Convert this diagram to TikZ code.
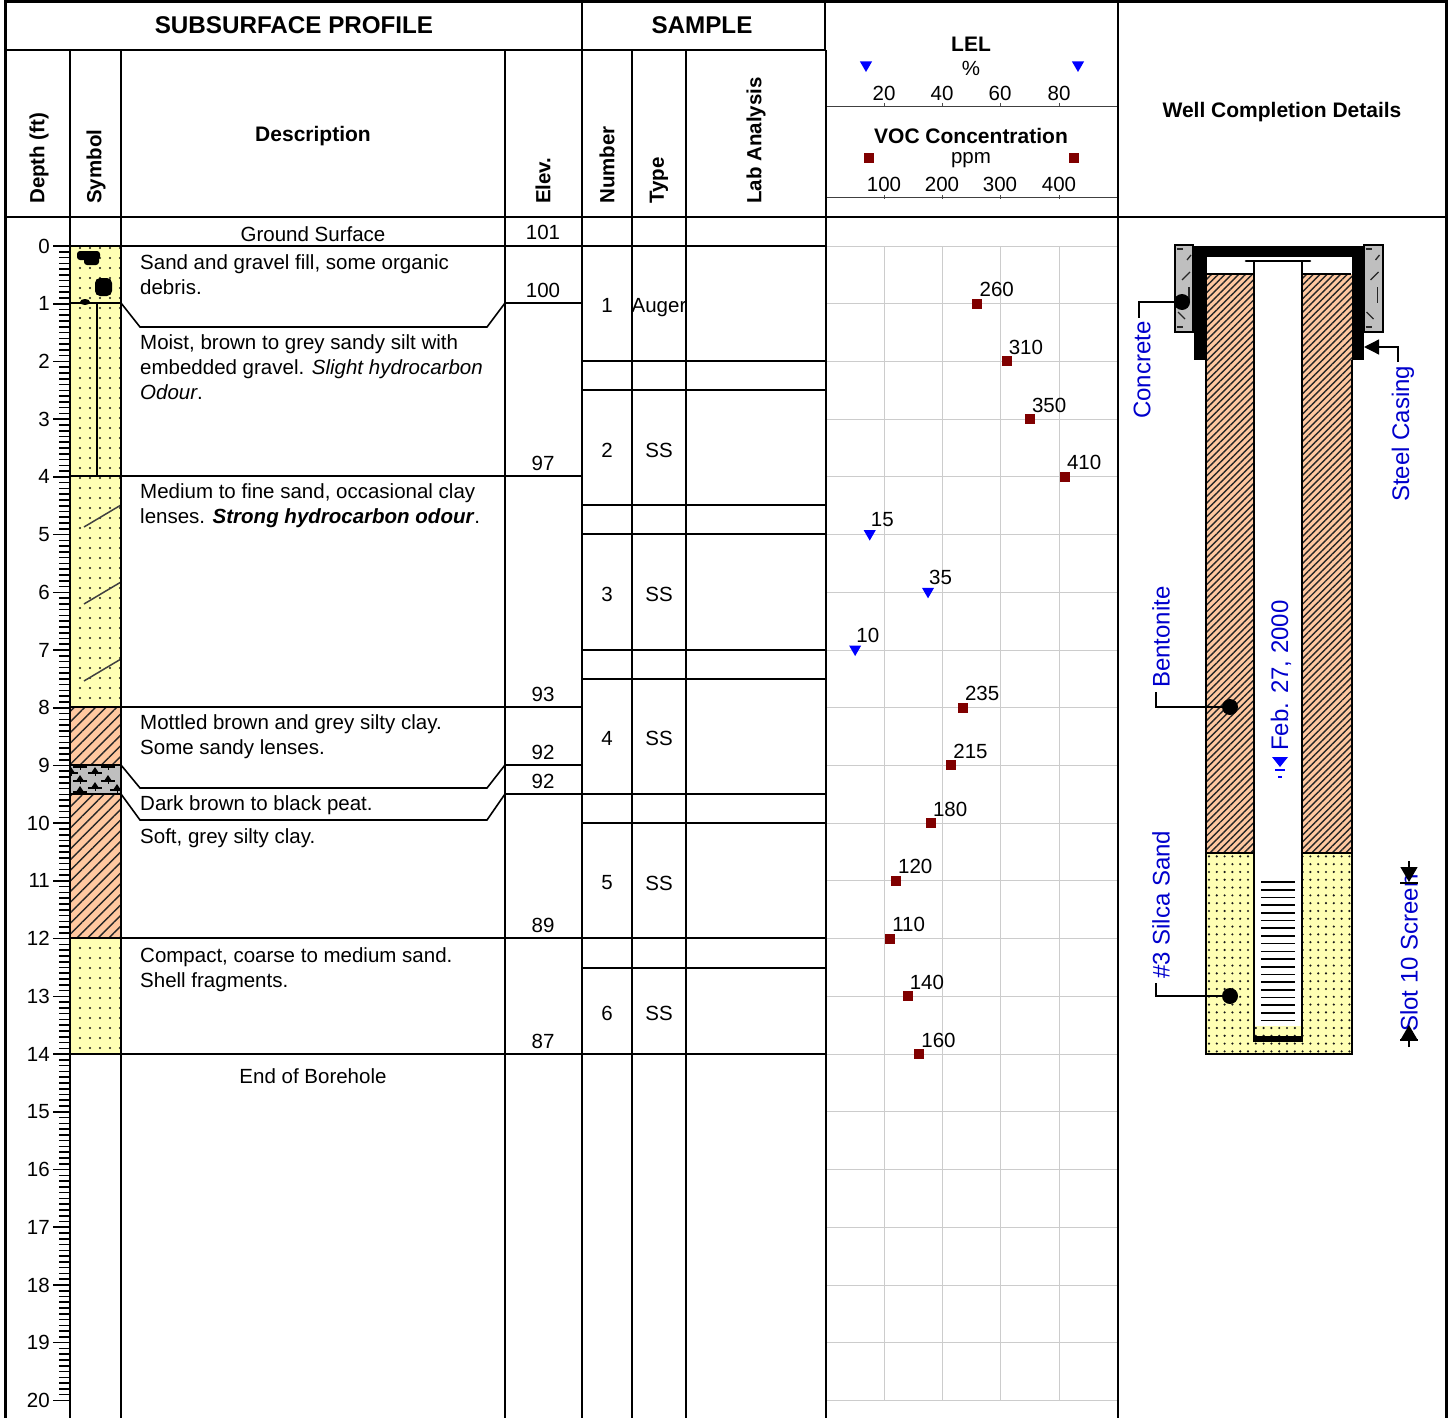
\documentclass[tikz,border=0pt]{standalone}
\usepackage{fontspec}
\setmainfont{Liberation Sans}
\usetikzlibrary{shapes.geometric, patterns.meta, arrows.meta, calc}
\definecolor{soilyellow}{HTML}{FFFFB4}
\definecolor{claybrown}{HTML}{FFC8A0}
\definecolor{vocred}{HTML}{800000}
\definecolor{labelblue}{HTML}{0000CC}

\begin{document}
\begin{tikzpicture}[x=1pt, y=-1pt, every node/.style={inner sep=0pt, font=\fontsize{20.5}{25}\selectfont}]
% Styles
\tikzstyle{rule} = [line width=1.6pt, black]
\tikzstyle{frame} = [line width=3pt, black]
\tikzstyle{gridline} = [line width=0.9pt, black!20]
\tikzstyle{headtext} = [font=\fontsize{24.2}{28}\selectfont\bfseries]
\tikzstyle{coltext} = [font=\fontsize{21}{25}\selectfont\bfseries]
\tikzstyle{vertext} = [font=\fontsize{20.5}{25}\selectfont\bfseries, rotate=90, anchor=west]
\tikzstyle{desc} = [anchor=north west, align=left]
\tikzstyle{datalabel} = [anchor=west]
\tikzstyle{sanddots} = [fill=soilyellow, postaction={pattern={Dots[distance=10pt,radius=1.2pt]}, pattern color=black!90}]
\tikzstyle{welldots} = [fill=soilyellow, postaction={pattern={Dots[distance=7.8pt,radius=1.2pt]}, pattern color=black!90}]
\tikzstyle{clayhatch} = [fill=claybrown, postaction={pattern={Lines[angle=45,distance=7.5pt,line width=1.4pt]}, pattern color=black!85}]
\tikzstyle{wellhatch} = [fill=claybrown, postaction={pattern={Lines[angle=45,distance=4.8pt,line width=1.4pt]}, pattern color=black!85}]
\tikzstyle{lelmark} = [regular polygon, regular polygon sides=3, shape border rotate=180, fill=blue, minimum size=14pt]
\tikzstyle{vocmark} = [rectangle, fill=vocred, minimum size=10pt]
\tikzstyle{wellpin} = [circle, fill=black, minimum size=16pt]
\tikzstyle{welllabel} = [rotate=90, anchor=west, text=labelblue, font=\fontsize{24}{28}\selectfont]

\useasboundingbox (0,0) rectangle (1452,1418);

% Soil symbol column
\fill[sanddots] (71,246) rectangle (121,707);
\fill[clayhatch] (71,707) rectangle (121,765);
\fill[black!25] (71,765) rectangle (121,794);
\fill[clayhatch] (71,794) rectangle (121,938);
\fill[sanddots] (71,938) rectangle (121,1054);

% Gravel
\fill[rounded corners=3pt] (77,251) rectangle (100,260);
\fill[rounded corners=3pt] (84,256) rectangle (99,265);
\fill[rounded corners=5pt] (95,278) rectangle (112,296);
\fill (85,302) ellipse (5 and 3);
\draw[line width=1.7pt] (97,303) -- (97,476);
\foreach \y in {527,604,681}
  \draw[line width=1.5pt, black!75] (84,\y) -- (121,\y-22);

% Peat
\begin{scope}
\clip (71,765) rectangle (121,794);
\foreach \x/\y in {80/767,108/767,95/773,80/781,108/781,95/788,80/792,117/790,71/773}{
  \draw[line width=1.3pt] (\x-7,\y) -- (\x+7,\y);
  \fill (\x-4,\y) -- (\x,\y-6) -- (\x+4,\y) -- cycle;
  \draw[line width=1pt] (\x,\y) -- (\x,\y+3);
}
\end{scope}

% Chart grid
\foreach \d in {0,...,20}
  \draw[gridline] (826,{246+\d*57.72}) -- (1118,{246+\d*57.72});
\foreach \x in {884,942,1000,1059}{
  \draw[gridline] (\x,246) -- (\x,1401);
  \draw[line width=0.8pt, black!70] (\x,103) -- (\x,107);
  \draw[line width=0.8pt, black!70] (\x,195) -- (\x,199);
}
\draw[line width=1pt, black!75] (826,106.5) -- (1118,106.5);
\draw[line width=1pt, black!75] (826,198) -- (1118,198);

% Depth scale
\foreach \d in {0,...,200}
  \draw[line width=1.6pt] (59,{246+\d*5.772}) -- (70,{246+\d*5.772});
\foreach \d in {0,...,20}{
  \draw[line width=1.6pt] (53,{246+\d*57.72}) -- (70,{246+\d*57.72});
  \node (depth\d) [anchor=east] at (50,{246+\d*57.72}) {\d};
}

% Columns and frame
\foreach \x in {70,121,505,582,632,686,826,1118}
  \draw[rule] (\x,50) -- (\x,1418);
\draw[rule] (582,2) -- (582,50);
\draw[rule] (1118,2) -- (1118,50);
\draw[line width=2.4pt] (825,2) -- (825,50);
\draw[frame] (5.5,1418) -- (5.5,1.5) -- (1446,1.5) -- (1446,1418);
\draw[rule] (6,50) -- (825,50);
\draw[rule] (6,217) -- (1446,217);
\draw[rule] (70,246) -- (826,246);

% Layer boundaries
\draw[rule] (70,303) -- (121,303) -- (140,327) -- (487,327) -- (505,303) -- (582,303);
\draw[rule] (70,476) -- (582,476);
\draw[rule] (70,707) -- (582,707);
\draw[rule] (70,765) -- (121,765) -- (140,788) -- (487,788) -- (505,765) -- (582,765);
\draw[rule] (70,794) -- (121,794) -- (140,820) -- (487,820) -- (505,794) -- (582,794);
\draw[rule] (70,938) -- (826,938);
\draw[rule] (70,1054) -- (826,1054);

% Sample boundaries
\foreach \y in {361,390,505,534,650,679,794,823,968}
  \draw[rule] (582,\y) -- (826,\y);

% Headers
\node (subsurface) [headtext] at (294,25) {SUBSURFACE PROFILE};
\node (sample) [headtext] at (702,25) {SAMPLE};
\node (descr) [coltext] at (313,136) {Description};
\node (wellhead) [coltext] at (1282,112) {Well Completion Details};
\node (depthhead) [vertext] at (39,204) {Depth (ft)};
\node (symbolhead) [vertext] at (96,204) {Symbol};
\node (elevhead) [vertext] at (543,204) {Elev.};
\node (numberhead) [vertext] at (607,204) {Number};
\node (typehead) [vertext] at (659,204) {Type};
\node (labhead) [vertext] at (756,204) {Lab Analysis};

\node (lel) [coltext] at (971,44) {LEL};
\node (percent) at (971,68) {\%};
\node (lelleft) [lelmark] at (866,65) {};
\node (lelright) [lelmark] at (1078,65) {};
\node (voc) [coltext] at (971,136) {VOC Concentration};
\node (ppm) at (971,160) {ppm};
\node (vocleft) [vocmark] at (869,158) {};
\node (vocright) [vocmark] at (1074,158) {};
\foreach \x/\a/\b in {884/20/100,942/40/200,1000/60/300,1059/80/400}{
  \node (lel\a) at (\x,93) {\a};
  \node (voc\b) at (\x,184) {\b};
}

% Descriptions
\node (ground) at (313,234) {Ground Surface};
\node (fill) [desc] at (140,254) {Sand and gravel fill, some organic\\debris.};
\node (silt) [desc] at (140,334) {Moist, brown to grey sandy silt with\\embedded gravel. \textit{Slight hydrocarbon}\\\textit{Odour}.};
\node (sand) [desc] at (140,483) {Medium to fine sand, occasional clay\\lenses. \textbf{\textit{Strong hydrocarbon odour}}.};
\node (mottled) [desc] at (140,714) {Mottled brown and grey silty clay.\\Some sandy lenses.};
\node (peat) [desc] at (140,795) {Dark brown to black peat.};
\node (softclay) [desc] at (140,828) {Soft, grey silty clay.};
\node (compact) [desc] at (140,947) {Compact, coarse to medium sand.\\Shell fragments.};
\node (end) at (313,1076) {End of Borehole};

% Elevations
\foreach \n/\y/\v in {a/232/101,b/290/100,c/463/97,d/694/93,e/752/92,f/781/92,g/925/89,h/1041/87}
  \node (elev\n) at (543,\y) {\v};

% Samples
\foreach \n/\y/\t in {1/305/Auger,2/450/SS,3/594/SS,4/738/SS,5/883/SS,6/1013/SS}{
  \node (num\n) at (607,\y) {\n};
  \node (type\n) [text depth=0pt] at (659,\y) {\t};
}

% VOC readings
\foreach \d/\v in {1/260,2/310,3/350,4/410,8/235,9/215,10/180,11/120,12/110,13/140,14/160}{
  \node (vocpt\d) [vocmark] at ({826+\v*0.5825},{246+\d*57.72}) {};
  \node (vocval\d) [datalabel] at ($(vocpt\d)+(2,-14)$) {\v};
}

% LEL readings
\foreach \d/\v in {5/15,6/35,7/10}{
  \node (lelpt\d) [lelmark] at ({826+\v*2.915},{245+\d*57.72}) {};
  \node (lelval\d) [datalabel] at ($(lelpt\d)+(1,-14)$) {\v};
}

% Well
\fill[wellhatch] (1207,274) rectangle (1254,853);
\fill[wellhatch] (1302,274) rectangle (1352,853);
\fill[welldots] (1206,853) rectangle (1352,1054);
\fill[white] (1254,262) rectangle (1302,1036);
\fill[welldots] (1254,1026) rectangle (1302,1036);
\draw[line width=1.6pt] (1206,360) -- (1206,1054) -- (1352,1054) -- (1352,360);
\draw[line width=1.6pt] (1206,853) -- (1254,853);
\draw[line width=1.6pt] (1302,853) -- (1352,853);
\draw[line width=1.5pt] (1207,274) -- (1254,274);
\draw[line width=1.5pt] (1302,274) -- (1351,274);
\draw[line width=2pt] (1254,261) -- (1254,1040);
\draw[line width=2pt] (1302,261) -- (1302,1040);
\draw[line width=2.6pt, line cap=round] (1246,261) -- (1310,261);
\fill (1253,1036) rectangle (1303,1042);
\fill (1194,246) rectangle (1364,257);
\fill (1194,246) rectangle (1207,360);
\fill (1352,246) rectangle (1364,360);
\foreach \y in {882,889.7,...,1021}
  \draw[line width=1.6pt] (1261,\y) -- (1295,\y);

% Concrete
\draw[line width=1.3pt, fill=black!25] (1175,245) rectangle (1193,332);
\draw[line width=1.3pt, fill=black!25] (1364,245) rectangle (1383,332);
\foreach \x in {0,188.5}{
  \begin{scope}[xshift=\x, black!85, line width=1.3pt]
  \draw (1177,249) -- (1183,249);
  \draw (1187,260) -- (1191,255);
  \draw (1182,280) -- (1190,272);
  \draw (1189,287) -- (1189,303);
  \draw (1178,312) -- (1185,319);
  \draw (1177,327) -- (1183,327);
  \end{scope}
}

% Well labels
\node (pinconcrete) [wellpin] at (1182,302) {};
\node (concrete) [welllabel] at (1142,419) {Concrete};
\coordinate (concreteend) at (1139,318);
\draw[line width=1.3pt] (pinconcrete) -| (concreteend);

\node (steel) [welllabel] at (1403,502) {Steel Casing};
\coordinate (steeltip) at (1364,347);
\coordinate (steelend) at (1398,362);
\draw[line width=1.3pt, -{Triangle[length=15pt,width=15pt]}] (steelend) |- (steeltip);

\node (pinbentonite) [wellpin] at (1230,707) {};
\node (bentonite) [welllabel] at (1161,688) {Bentonite};
\coordinate (bentoniteend) at (1156,692);
\draw[line width=1.3pt] (pinbentonite) -| (bentoniteend);

\node (pinsilica) [wellpin] at (1230,996) {};
\node (silica) [welllabel] at (1161,979) {\#3 Silca Sand};
\coordinate (silicaend) at (1156,983);
\draw[line width=1.3pt] (pinsilica) -| (silicaend);

\node (screen) [welllabel] at (1409,1032) {Slot 10 Screen};
\coordinate (screentop) at (1409,861);
\coordinate (screentip) at (1409,882);
\coordinate (screenbot) at (1409,1047);
\coordinate (screenbtip) at (1409,1025);
\draw[line width=1.3pt, -{Triangle[length=15pt,width=17pt]}] (screentop) -- (screentip);
\draw[line width=1.3pt, -{Triangle[length=15pt,width=17pt]}] (screenbot) -- (screenbtip);
\draw[line width=1.3pt] (1400,883) -- (1418,883);
\draw[line width=1.3pt] (1400,1040) -- (1418,1040);

% Water level
\node (waterdate) [welllabel] at (1281,751) {Feb. 27, 2000};
\fill[blue] (1272,757) -- (1288,757) -- (1280,767) -- cycle;
\draw[blue, line width=1.2pt] (1275,770) -- (1285,770);
\draw[blue, line width=1.2pt] (1278,777) -- (1282,777);
\end{tikzpicture}
\end{document}
